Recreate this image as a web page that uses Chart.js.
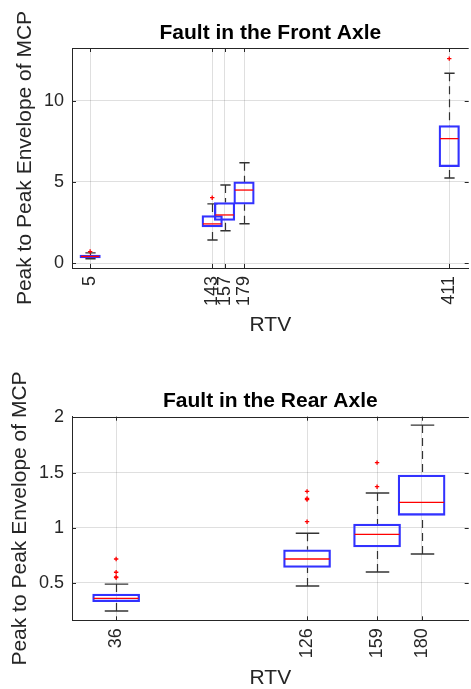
<!DOCTYPE html>
<html>
<head>
<meta charset="utf-8">
<title>RTV box plots</title>
<script src="https://cdn.jsdelivr.net/npm/chart.js@4/dist/chart.umd.min.js"></script>
<style>
  html, body { margin: 0; padding: 0; overflow: hidden; background: #fff; }
  .panel { position: absolute; left: 0; }
</style>
</head>
<body>
<div class="panel" style="top:0"><canvas id="front" width="474" height="340"></canvas></div>
<div class="panel" style="top:340px"><canvas id="rear" width="474" height="349"></canvas></div>
<script>
// ── Front axle data ──────────────────────────────────────────────────────────
var frontRTV      = [5, 143, 157, 179, 411];
var frontLow      = [0.28, 1.43, 2.00, 2.43, 5.24];
var frontQ1       = [0.33, 2.23, 2.64, 3.63, 5.94];
var frontMedian   = [0.42, 2.42, 2.97, 4.50, 7.66];
var frontQ3       = [0.50, 2.93, 3.73, 5.00, 8.46];
var frontHigh     = [0.64, 3.65, 4.81, 6.18, 11.68];
var frontOutlierX = [5, 143, 411];
var frontOutlierY = [0.72, 4.03, 12.58];
var frontYTicks   = [0, 5, 10];

// ── Rear axle data ───────────────────────────────────────────────────────────
var rearRTV      = [36, 126, 159, 180];
var rearLow      = [0.246, 0.473, 0.60, 0.763];
var rearQ1       = [0.33, 0.64, 0.826, 1.113];
var rearMedian   = [0.36, 0.717, 0.94, 1.23];
var rearQ3       = [0.40, 0.80, 1.034, 1.478];
var rearHigh     = [0.49, 0.95, 1.315, 1.93];
var rearOutlierX = [36, 36, 36, 36, 126, 126, 126, 126, 159, 159];
var rearOutlierY = [0.548, 0.555, 0.597, 0.717, 1.055, 1.255, 1.265, 1.33, 1.372, 1.59];
var rearYTicks   = [0.5, 1, 1.5, 2];

(function () {
    'use strict';

    var FONT      = "'Liberation Sans', Arial, Helvetica, sans-serif";
    var AXIS_COL  = '#262626';
    var GRID_COL  = 'rgba(38, 38, 38, 0.15)';
    var BOX_COL   = 'rgb(50, 50, 255)';
    var MED_COL   = 'rgb(255, 0, 0)';
    var WHISK_COL = '#333333';

    function line(ctx, x1, y1, x2, y2) {
        ctx.beginPath();
        ctx.moveTo(x1, y1);
        ctx.lineTo(x2, y2);
        ctx.stroke();
    }

    // whiskers + caps behind the boxes, medians on top of them
    function boxPartsPlugin(s) {
        return {
            id: 'boxParts',
            beforeDatasetsDraw: function (chart) {
                var ctx = chart.ctx, xs = chart.scales.x, ys = chart.scales.y, a = chart.chartArea;
                ctx.save();
                ctx.beginPath();
                ctx.rect(a.left, a.top, a.right - a.left, a.bottom - a.top);
                ctx.clip();
                ctx.strokeStyle = WHISK_COL;
                ctx.lineWidth = 1.2;
                var h = s.boxPx / 4;
                s.pos.forEach(function (p, i) {
                    var x = Math.round(xs.getPixelForValue(p)) + 0.5;
                    var yHi = ys.getPixelForValue(s.hi[i]), yLo = ys.getPixelForValue(s.lo[i]);
                    ctx.setLineDash([8, 5]);
                    line(ctx, x, yHi, x, ys.getPixelForValue(s.q3[i]));
                    line(ctx, x, yLo, x, ys.getPixelForValue(s.q1[i]));
                    ctx.setLineDash([]);
                    ctx.lineWidth = 1.4;
                    line(ctx, x - h, yHi, x + h, yHi);
                    line(ctx, x - h, yLo, x + h, yLo);
                    ctx.lineWidth = 1.2;
                });
                ctx.restore();
            },
            afterDatasetsDraw: function (chart) {
                var ctx = chart.ctx, xs = chart.scales.x, ys = chart.scales.y;
                ctx.save();
                ctx.strokeStyle = MED_COL;
                ctx.lineWidth = 1.3;
                var h = s.boxPx / 2 - 1;
                s.pos.forEach(function (p, i) {
                    var x = xs.getPixelForValue(p), y = ys.getPixelForValue(s.med[i]);
                    line(ctx, x - h, y, x + h, y);
                });
                ctx.restore();
            },
            afterDraw: function (chart) {
                // top border and MATLAB-style inward tick marks
                var ctx = chart.ctx, a = chart.chartArea, xs = chart.scales.x, ys = chart.scales.y;
                ctx.save();
                ctx.strokeStyle = AXIS_COL;
                ctx.lineWidth = 1;
                line(ctx, a.left, Math.round(a.top) + 0.5, a.right, Math.round(a.top) + 0.5);
                xs.ticks.forEach(function (t) {
                    var x = Math.round(xs.getPixelForValue(t.value)) + 0.5;
                    line(ctx, x, a.bottom, x, a.bottom - 4);
                    line(ctx, x, a.top, x, a.top + 4);
                });
                ys.ticks.forEach(function (t) {
                    var y = Math.round(ys.getPixelForValue(t.value)) + 0.5;
                    line(ctx, a.left, y, a.left + 4, y);
                    line(ctx, a.right, y, a.right - 4, y);
                });
                ctx.restore();
            },
        };
    }

    function makeChart(canvasId, s) {
        var boxes = s.pos.map(function (p, i) { return { x: p, y: [s.q1[i], s.q3[i]] }; });
        var outliers = s.outX.map(function (p, i) { return { x: p, y: s.outY[i] }; });

        return new Chart(document.getElementById(canvasId).getContext('2d'), {
            type: 'bar',
            data: {
                datasets: [{
                    type: 'bar',
                    data: boxes,
                    backgroundColor: 'rgba(0,0,0,0)',
                    borderColor: BOX_COL,
                    borderWidth: 1.6,
                    borderSkipped: false,
                    barThickness: s.boxPx,
                }, {
                    type: 'scatter',
                    data: outliers,
                    pointStyle: 'cross',
                    pointRadius: 2.2,
                    borderWidth: 1.3,
                    borderColor: MED_COL,
                    backgroundColor: MED_COL,
                }],
            },
            options: {
                responsive: false,
                animation: false,
                devicePixelRatio: 1,
                layout: { padding: { left: 0, right: 2, top: 0, bottom: 0 } },
                plugins: {
                    legend: { display: false },
                    tooltip: { enabled: false },
                    title: {
                        display: true,
                        text: s.title,
                        fullSize: false,
                        color: '#000',
                        font: { family: FONT, size: 21, weight: 'bold', lineHeight: 1 },
                        padding: { top: s.titleTop, bottom: 4.5 },
                    },
                },
                scales: {
                    x: {
                        type: 'linear',
                        offset: false,
                        min: s.xMin, max: s.xMax,
                        afterBuildTicks: function (sc) {
                            sc.ticks = s.pos.map(function (v) { return { value: v }; });
                        },
                        afterFit: function (sc) {
                            sc.height = s.xAxisH;
                            sc.paddingLeft = 0;
                            sc.paddingRight = 0;
                        },
                        ticks: {
                            autoSkip: false,
                            minRotation: 90, maxRotation: 90,
                            padding: 8,
                            color: AXIS_COL,
                            font: { family: FONT, size: 18 },
                            callback: function (v) { return String(v); },
                        },
                        grid: { color: GRID_COL, drawTicks: false, offset: false },
                        border: { display: true, color: AXIS_COL, width: 1 },
                        title: {
                            display: true, text: 'RTV', color: AXIS_COL,
                            font: { family: FONT, size: 21, lineHeight: 1 },
                            padding: { top: 0, bottom: s.xTitlePad },
                        },
                    },
                    y: {
                        type: 'linear',
                        min: s.yMin, max: s.yMax,
                        afterBuildTicks: function (sc) {
                            sc.ticks = s.yTicks.map(function (v) { return { value: v }; });
                        },
                        afterFit: function (sc) { sc.width = 72; },
                        ticks: {
                            padding: 8,
                            color: AXIS_COL,
                            font: { family: FONT, size: 18 },
                            callback: function (v) { return String(v); },
                        },
                        grid: { color: GRID_COL, drawTicks: false },
                        border: { display: true, color: AXIS_COL, width: 1 },
                        title: {
                            display: true, text: 'Peak to Peak Envelope of MCP', color: AXIS_COL,
                            font: { family: FONT, size: 21, lineHeight: 1 },
                            padding: { top: s.yTitlePad, bottom: 0 },
                        },
                    },
                },
            },
            plugins: [boxPartsPlugin(s)],
        });
    }

    makeChart('front', {
        title: 'Fault in the Front Axle',
        pos: frontRTV, lo: frontLow, q1: frontQ1, med: frontMedian, q3: frontQ3, hi: frontHigh,
        outX: frontOutlierX, outY: frontOutlierY, yTicks: frontYTicks,
        xMin: -15.5, xMax: 433, yMin: -0.29, yMax: 13.23,
        boxPx: 20.5, titleTop: 22.5, xAxisH: 72, xTitlePad: 3.8, yTitlePad: 14.5,
    });

    makeChart('rear', {
        title: 'Fault in the Rear Axle',
        pos: rearRTV, lo: rearLow, q1: rearQ1, med: rearMedian, q3: rearQ3, hi: rearHigh,
        outX: rearOutlierX, outY: rearOutlierY, yTicks: rearYTicks,
        xMin: 15.2, xMax: 202.2, yMin: 0.162, yMax: 2.006,
        boxPx: 47, titleTop: 51.2, xAxisH: 68.7, xTitlePad: 0.5, yTitlePad: 9.5,
    });
}());
</script>
</body>
</html>
